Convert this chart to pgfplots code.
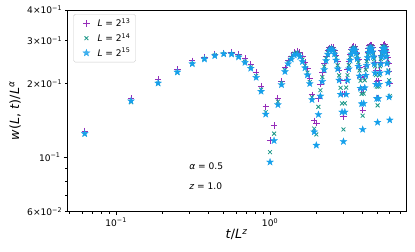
\documentclass[border=0pt]{standalone}
\usepackage{fontspec}
\setmainfont{DejaVu Sans}
\usepackage{pgfplots}
\usepackage{pgfplotstable}
\pgfplotsset{compat=1.18}
\definecolor{cplus}{RGB}{150,45,185}
\definecolor{ccross}{RGB}{25,150,135}
\definecolor{cstar}{RGB}{22,160,235}
\pgfdeclareplotmark{fstar}{%
 \pgfpathmoveto{\pgfpointpolar{90}{\pgfplotmarksize}}%
 \pgfpathlineto{\pgfpointpolar{126}{0.4\pgfplotmarksize}}%
 \pgfpathlineto{\pgfpointpolar{162}{\pgfplotmarksize}}%
 \pgfpathlineto{\pgfpointpolar{198}{0.4\pgfplotmarksize}}%
 \pgfpathlineto{\pgfpointpolar{234}{\pgfplotmarksize}}%
 \pgfpathlineto{\pgfpointpolar{270}{0.4\pgfplotmarksize}}%
 \pgfpathlineto{\pgfpointpolar{306}{\pgfplotmarksize}}%
 \pgfpathlineto{\pgfpointpolar{342}{0.4\pgfplotmarksize}}%
 \pgfpathlineto{\pgfpointpolar{18}{\pgfplotmarksize}}%
 \pgfpathlineto{\pgfpointpolar{54}{0.4\pgfplotmarksize}}%
 \pgfpathclose
 \pgfusepathqfillstroke
}
\pgfplotsset{mylegimg/.style={legend image code/.code={\pgfpathrectangle{\pgfpoint{0cm}{-0.12cm}}{\pgfpoint{0.72cm}{0.24cm}}\pgfusepath{use as bounding box}\draw[mark repeat=2,mark phase=2,##1] plot coordinates {(0cm,0cm) (0.36cm,0cm) (0.72cm,0cm)};}}}
\pgfplotstableread{
t p c s
0.0625 0.128 0.124 0.125
0.125 0.174 0.168 0.170
0.1875 0.208 0.200 0.201
0.25 0.229 0.222 0.223
0.3125 0.248 0.241 0.241
0.375 0.257 0.253 0.252
0.4375 0.264 0.261 0.260
0.5 0.267 0.264 0.2645
0.5625 0.268 0.264 0.264
0.625 0.264 0.258 0.257
0.6875 0.254 0.246 0.244
0.75 0.240 0.233 0.231
0.8125 0.222 0.215 0.212
0.875 0.195 0.189 0.186
0.9375 0.161 0.153 0.150
1.0 0.117 0.105 0.0956
1.0625 0.1348 0.125 0.117
1.125 0.1745 0.169 0.164
1.1875 0.205 0.201 0.198
1.25 0.232 0.227 0.224
1.3125 0.248 0.244 0.241
1.375 0.259 0.255 0.252
1.4375 0.268 0.265 0.262
1.5 0.272 0.268 0.264
1.5625 0.268 0.263 0.258
1.625 0.258 0.251 0.246
1.6875 0.245 0.237 0.232
1.75 0.230 0.222 0.217
1.8125 0.210 0.203 0.200
1.875 0.180 0.176 0.172
1.9375 0.141 0.131 0.127
2.0 0.138 0.124 0.112
2.0625 0.1735 0.1608 0.1495
2.125 0.1992 0.1880 0.1779
2.1875 0.2222 0.2128 0.2042
2.25 0.2425 0.2350 0.2280
2.3125 0.2594 0.2537 0.2482
2.375 0.2722 0.2680 0.2638
2.4375 0.2804 0.2771 0.2738
2.5 0.283 0.280 0.277
2.5625 0.2806 0.2772 0.2739
2.625 0.2732 0.2686 0.2643
2.6875 0.2614 0.2552 0.2493
2.75 0.2458 0.2374 0.2297
2.8125 0.2270 0.2162 0.2066
2.875 0.2055 0.1924 0.1809
2.9375 0.1811 0.1660 0.1531
3.0 0.147 0.130 0.116
3.0625 0.1815 0.1662 0.1531
3.125 0.2062 0.1928 0.1809
3.1875 0.2280 0.2167 0.2066
3.25 0.2472 0.2381 0.2297
3.3125 0.2631 0.2560 0.2493
3.375 0.2750 0.2695 0.2643
3.4375 0.2826 0.2782 0.2739
3.5 0.285 0.281 0.277
3.5625 0.2828 0.2787 0.2743
3.625 0.2759 0.2714 0.2659
3.6875 0.2649 0.2600 0.2528
3.75 0.2503 0.2448 0.2354
3.8125 0.2326 0.2264 0.2147
3.875 0.2122 0.2054 0.1914
3.9375 0.1891 0.1816 0.1655
4.0 0.156 0.148 0.130
4.0625 0.1896 0.1822 0.1660
4.125 0.2134 0.2065 0.1924
4.1875 0.2343 0.2280 0.2162
4.25 0.2524 0.2469 0.2374
4.3125 0.2674 0.2625 0.2552
4.375 0.2786 0.2742 0.2686
4.4375 0.2857 0.2816 0.2772
4.5 0.288 0.284 0.280
4.5625 0.2861 0.2820 0.2775
4.625 0.2803 0.2756 0.2696
4.6875 0.2712 0.2655 0.2573
4.75 0.2588 0.2520 0.2408
4.8125 0.2435 0.2355 0.2212
4.875 0.2258 0.2166 0.1988
4.9375 0.2051 0.1946 0.1738
5.0 0.175 0.163 0.139
5.0625 0.2056 0.1946 0.1738
5.125 0.2265 0.2166 0.1988
5.1875 0.2446 0.2355 0.2212
5.25 0.2602 0.2520 0.2408
5.3125 0.2728 0.2655 0.2573
5.375 0.2822 0.2756 0.2696
5.4375 0.2881 0.2820 0.2775
5.5 0.290 0.284 0.280
5.5625 0.2886 0.2823 0.2775
5.625 0.2842 0.2769 0.2699
5.6875 0.2772 0.2684 0.2579
5.75 0.2677 0.2569 0.2419
5.8125 0.2559 0.2426 0.2228
5.875 0.2418 0.2261 0.2009
5.9375 0.2252 0.2066 0.1763
6.0 0.200 0.178 0.142
}\data
\begin{document}
\begin{tikzpicture}
\begin{axis}[
  scale only axis,
  width=373pt, height=222pt,
  xmode=log, ymode=log,
  xmin=0.0481, xmax=7.64,
  ymin=0.06, ymax=0.4,
  axis line style={black, line width=0.8pt},
  tick pos=left,
  tick align=outside,
  every tick/.style={black, line width=0.8pt},
  major tick length=3.9pt,
  minor tick length=2.2pt,
  xtick={0.1,1},
  xticklabels={10\textsuperscript{−1},10\textsuperscript{0}},
  minor xtick={0.05,0.06,0.07,0.08,0.09,0.2,0.3,0.4,0.5,0.6,0.7,0.8,0.9,2,3,4,5,6,7},
  ytick={0.1},
  yticklabels={10\textsuperscript{−1}},
  extra y ticks={0.06,0.2,0.3,0.4},
  extra y tick labels={6×10\textsuperscript{−2},2×10\textsuperscript{−1},3×10\textsuperscript{−1},4×10\textsuperscript{−1}},
  extra y tick style={major tick length=2.2pt},
  minor ytick={0.07,0.08,0.09},
  ticklabel style={font=\fontsize{10}{12}\selectfont},
  xlabel={\textit{t}/\textit{L}\textsuperscript{\textit{z}}},
  ylabel={\textit{w}(\textit{L}, \textit{t})/\textit{L}\textsuperscript{\textit{α}}},
  label style={font=\fontsize{14}{16}\selectfont},
  xlabel style={at={(axis description cs:0.5,-0.114)}, anchor=center},
  ylabel style={at={(axis description cs:-0.154,0.5)}, anchor=center},
  legend style={at={(axis description cs:0.018,0.98)}, anchor=north west,
    draw=black!20, rounded corners=2pt, fill=white, fill opacity=0.8, text opacity=1, draw opacity=1,
    font=\fontsize{10}{12}\selectfont, row sep=2pt, inner xsep=4pt, inner ysep=3pt},
  legend cell align=left,
]
\addplot[only marks, mark=+, mark size=3.5pt, color=cplus, line width=0.9pt, mylegimg] table[x=t,y=p]{\data};
\addlegendentry{\textit{L} = 2\textsuperscript{13}}
\addplot[only marks, mark=x, mark size=3pt, color=ccross, line width=0.9pt, mylegimg] table[x=t,y=c]{\data};
\addlegendentry{\textit{L} = 2\textsuperscript{14}}
\addplot[only marks, mark=fstar, mark size=4pt, color=cstar, line width=0.3pt, mylegimg] table[x=t,y=s]{\data};
\addlegendentry{\textit{L} = 2\textsuperscript{15}}
\node[anchor=west, font=\fontsize{10}{12}\selectfont] at (rel axis cs:0.351,0.223) {\textit{α} = 0.5};
\node[anchor=west, font=\fontsize{10}{12}\selectfont] at (rel axis cs:0.351,0.124) {\textit{z} = 1.0};
\end{axis}
\pgfresetboundingbox
\path[use as bounding box] (-74pt,-44pt) rectangle (383pt,233pt);
\end{tikzpicture}
\end{document}
